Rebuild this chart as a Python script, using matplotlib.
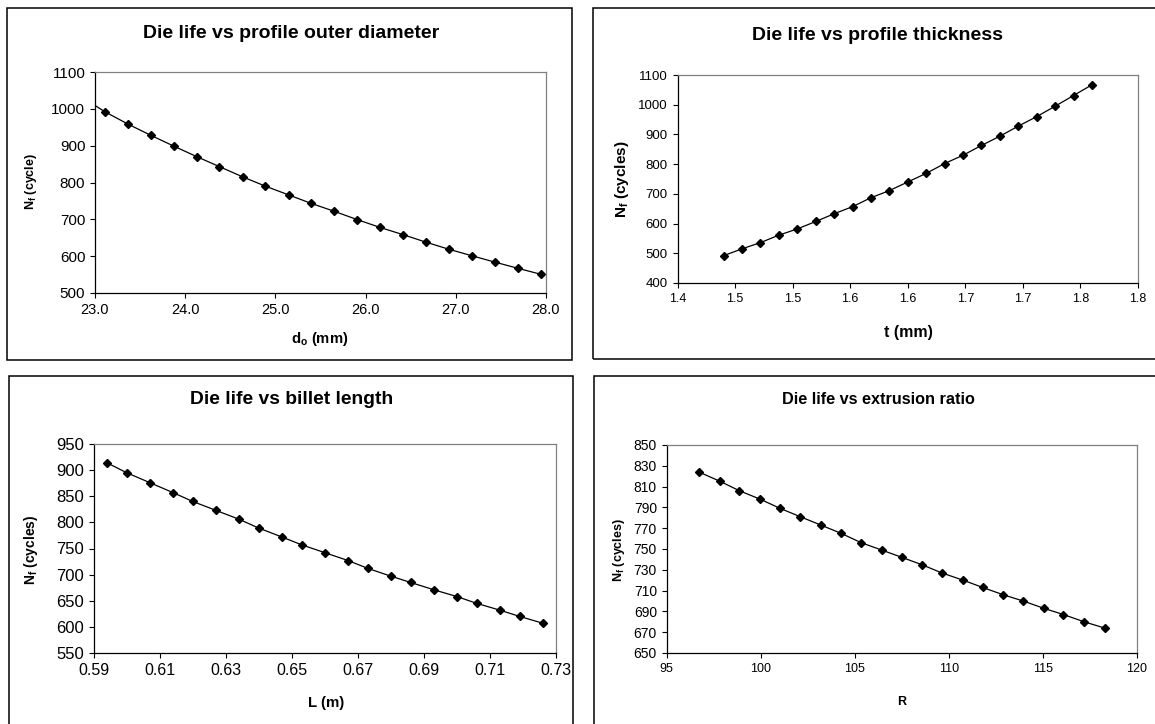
import matplotlib
matplotlib.use("Agg")
import matplotlib.pyplot as plt
from matplotlib.patches import Rectangle

plt.rcParams['font.family'] = ['Liberation Sans', 'DejaVu Sans']
plt.rcParams['mathtext.fontset'] = 'custom'
plt.rcParams['mathtext.rm'] = 'Liberation Sans'
plt.rcParams['mathtext.bf'] = 'Liberation Sans:bold'

# dados lidos do grafico
# diametro exterior (mm) - o primeiro ponto fica fora do eixo
do_mm = [22.86, 23.11, 23.37, 23.62, 23.88, 24.13, 24.38, 24.64, 24.89, 25.15, 25.40,
         25.65, 25.91, 26.16, 26.42, 26.67, 26.92, 27.18, 27.43, 27.69, 27.94]
nf_do = [1031, 992, 958, 928, 898, 870, 843, 815, 790, 766, 743,
         722, 699, 678, 658, 638, 619, 601, 584, 567, 551]

# espessura (mm)
t_mm = [1.440, 1.456, 1.472, 1.488, 1.504, 1.520, 1.536, 1.552, 1.568, 1.584, 1.600,
        1.616, 1.632, 1.648, 1.664, 1.680, 1.696, 1.712, 1.728, 1.744, 1.760]
nf_t = [492, 515, 536, 561, 582, 607, 633, 657, 687, 711, 740,
        769, 802, 830, 863, 894, 928, 960, 995, 1031, 1067]
t_ticks = [1.40, 1.45, 1.50, 1.55, 1.60, 1.65, 1.70, 1.75, 1.80]
t_labels = ['1.4', '1.5', '1.5', '1.6', '1.6', '1.7', '1.7', '1.8', '1.8']

# comprimento do bilete (m)
L_m = [0.594, 0.600, 0.607, 0.614, 0.620, 0.627, 0.634, 0.640, 0.647, 0.653, 0.660,
       0.667, 0.673, 0.680, 0.686, 0.693, 0.700, 0.706, 0.713, 0.719, 0.726]
nf_L = [914, 895, 876, 857, 840, 823, 806, 789, 772, 757, 742,
        727, 712, 697, 685, 671, 658, 645, 632, 620, 607]

# razao de extrusao
R = [96.72, 97.85, 98.87, 99.96, 101.04, 102.11, 103.20, 104.28, 105.35, 106.43, 107.50,
     108.55, 109.63, 110.76, 111.80, 112.89, 113.95, 115.04, 116.09, 117.19, 118.28]
nf_R = [824, 815, 806, 798, 789, 781, 773, 765, 756, 749, 742,
        735, 727, 720, 713, 706, 700, 693, 687, 680, 674]

W, H = 1155, 724
fig = plt.figure(figsize=(W / 100, H / 100), dpi=100)


def px(x0, y0, x1, y1):
    # caixa em pixeis (topo-esquerda) -> fracao da figura
    return [x0 / W, 1 - y1 / H, (x1 - x0) / W, (y1 - y0) / H]


def moldura(x0, y0, x1, y1):
    r = px(x0, y0, x1, y1)
    fig.add_artist(Rectangle((r[0], r[1]), r[2], r[3], transform=fig.transFigure,
                             fill=False, ec='black', lw=1.1))


def texto(x, y, s, size, rot=0):
    fig.text(x / W, 1 - y / H, s, ha='center', va='center', fontsize=size,
             fontweight='bold', rotation=rot)


def painel(caixa, x, y, xlim, ylim, xticks, yticks, xsize, ysize):
    ax = fig.add_axes(px(*caixa))
    ax.plot(x, y, color='black', lw=0.9, marker='D', ms=4.2,
            markerfacecolor='black', markeredgecolor='black')
    ax.set_xlim(xlim)
    ax.set_ylim(ylim)
    ax.set_xticks(xticks)
    ax.set_yticks(yticks)
    ax.tick_params(direction='out', length=3.5, width=0.8, colors='black')
    ax.tick_params(axis='x', labelsize=xsize)
    ax.tick_params(axis='y', labelsize=ysize)
    for s in ['top', 'right']:
        ax.spines[s].set_color('#808080')
        ax.spines[s].set_linewidth(0.9)
    for s in ['left', 'bottom']:
        ax.spines[s].set_linewidth(0.9)
    return ax


# molduras dos graficos
moldura(7, 8, 572, 360)
moldura(593, 8, 1170, 359)
moldura(9, 376, 573, 740)
moldura(594, 376, 1170, 740)

# Die life vs profile outer diameter
ax1 = painel((95, 72, 546, 293), do_mm, nf_do, (23, 28), (500, 1100),
             [23, 24, 25, 26, 27, 28], range(500, 1101, 100), 10.5, 11)
ax1.set_xticklabels(['%.1f' % v for v in [23, 24, 25, 26, 27, 28]])
texto(291.5, 33, 'Die life vs profile outer diameter', 14)
texto(320, 339, r'd$_\mathbf{o}$ (mm)', 10.6)
texto(31, 182, r'N$_\mathbf{f}$ (cycle)', 9, 90)

# Die life vs profile thickness
ax2 = painel((677.6, 75, 1138, 283), t_mm, nf_t, (1.4, 1.8), (400, 1100),
             t_ticks, range(400, 1101, 100), 9, 9.5)
ax2.set_xticklabels(t_labels)
texto(877, 35, 'Die life vs profile thickness', 14)
texto(908.5, 333, 't (mm)', 11.5)
texto(622, 179, r'N$_\mathbf{f}$ (cycles)', 11, 90)

# Die life vs billet length
L_ticks = [0.59, 0.61, 0.63, 0.65, 0.67, 0.69, 0.71, 0.73]
ax3 = painel((93.7, 444, 556, 653), L_m, nf_L, (0.59, 0.73), (550, 950),
             L_ticks, range(550, 951, 50), 11.5, 12)
ax3.set_xticklabels(['%.2f' % v for v in L_ticks])
texto(291.5, 400, 'Die life vs billet length', 13.9)
texto(326, 703, 'L (m)', 10.8)
texto(31, 550, r'N$_\mathbf{f}$ (cycles)', 10, 90)

# Die life vs extrusion ratio
ax4 = painel((666.6, 445, 1137, 653), R, nf_R, (95, 120), (650, 850),
             [95, 100, 105, 110, 115, 120], range(650, 851, 20), 9, 10)
texto(878, 400, 'Die life vs extrusion ratio', 11.7)
texto(902, 702, 'R', 9)
texto(619, 550, r'N$_\mathbf{f}$ (cycles)', 9, 90)

fig.savefig('out.png', dpi=100)
